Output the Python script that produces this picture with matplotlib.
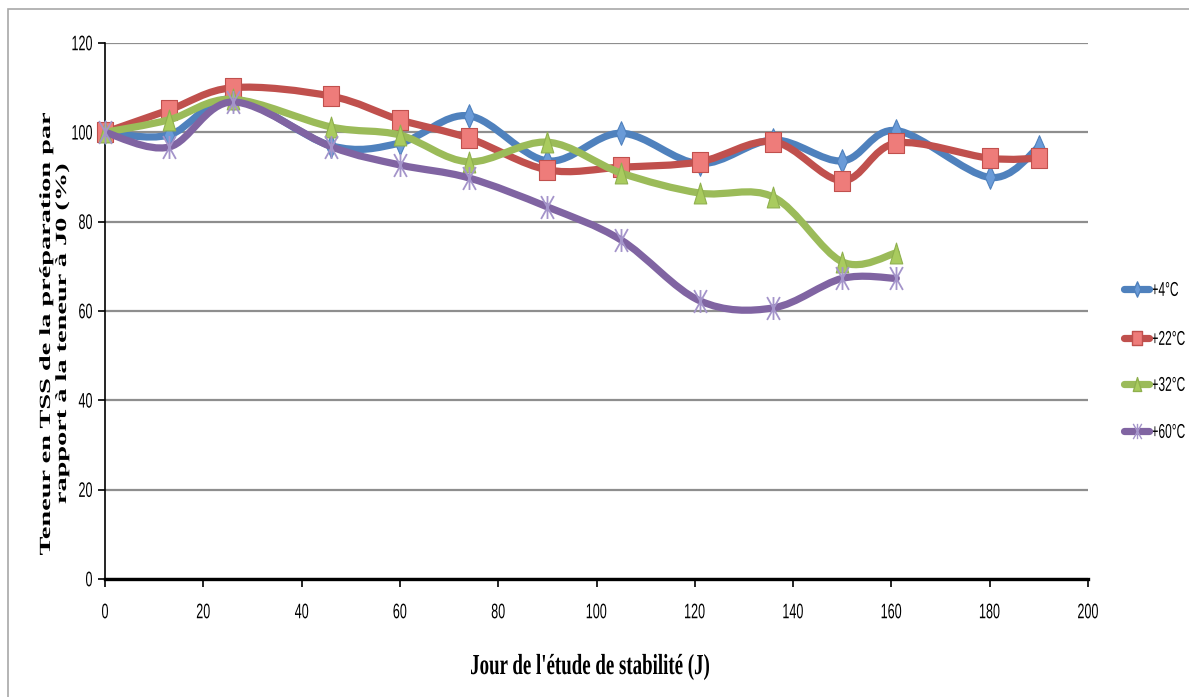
import numpy as np
import matplotlib
matplotlib.use('Agg')
import matplotlib.pyplot as plt
from matplotlib.path import Path
from matplotlib.patches import PathPatch, Rectangle
from matplotlib.textpath import TextPath
from matplotlib.font_manager import FontProperties
from matplotlib.transforms import Affine2D
from matplotlib.lines import Line2D

W, H = 1189, 697

# stability study data (% of J0 content)
days_long = [0, 13, 26, 46, 60, 74, 90, 105, 121, 136, 150, 161, 180, 190]
days_short = [0, 13, 26, 46, 60, 74, 90, 105, 121, 136, 150, 161]
tss_4 = [100, 99.4, 107.5, 97.0, 97.6, 103.7, 93.6, 99.8, 93.0, 98.3, 93.6, 100.4, 89.9, 96.7]
tss_22 = [100, 105.0, 110.0, 108.1, 102.8, 98.7, 91.6, 92.2, 93.4, 97.9, 89.2, 97.6, 94.2, 94.2]
tss_32 = [100, 102.8, 107.4, 101.2, 99.4, 93.4, 97.8, 90.9, 86.4, 85.5, 71.0, 73.0]
tss_60 = [100, 96.7, 106.8, 96.8, 92.7, 89.8, 83.3, 75.9, 62.3, 60.7, 67.3, 67.3]

labels = ['+4°C', '+22°C', '+32°C', '+60°C']
colors = ['#4F81BD', '#C0504D', '#9BBB59', '#8064A2']
x_ticks = [0, 20, 40, 60, 80, 100, 120, 140, 160, 180, 200]
y_ticks = [0, 20, 40, 60, 80, 100, 120]

# tall markers (the original chart is squeezed horizontally)
diamond = Path([(0, -0.5), (0.22, 0), (0, 0.5), (-0.22, 0), (0, -0.5)],
               [1, 2, 2, 2, 79])
square = Path([(-0.4, -0.5), (0.4, -0.5), (0.4, 0.5), (-0.4, 0.5), (-0.4, -0.5)],
              [1, 2, 2, 2, 79])
triangle = Path([(-0.3, -0.5), (0.3, -0.5), (0, 0.5), (-0.3, -0.5)], [1, 2, 2, 79])
star = Path([(-0.28, -0.5), (0.28, 0.5), (-0.28, 0.5), (0.28, -0.5), (0, -0.5), (0, 0.5)],
            [1, 2, 1, 2, 1, 2])


def smooth_path(xs, ys):
    pts = np.column_stack([xs, ys]).astype(float)
    n = len(pts)
    verts = [pts[0]]
    codes = [Path.MOVETO]
    for i in range(n - 1):
        p0 = pts[max(i - 1, 0)]
        p1 = pts[i]
        p2 = pts[i + 1]
        p3 = pts[min(i + 2, n - 1)]
        verts += [p1 + (p2 - p0) / 6, p2 - (p3 - p1) / 6, p2]
        codes += [Path.CURVE4] * 3
    return Path(verts, codes)


def draw_text(fig, s, x, y, em, sx=1.0, family='Liberation Sans', weight='normal',
              rot=0, ha='center', va='baseline', length=None):
    # x, y in reference pixels, y measured from the top
    tp = TextPath((0, 0), s, size=em, prop=FontProperties(family=family, weight=weight))
    ext = tp.get_extents()
    if length is not None:
        sx = length / ext.width
    ox = {'left': ext.x0, 'center': (ext.x0 + ext.x1) / 2, 'right': ext.x1}[ha]
    oy = {'baseline': 0, 'center': (ext.y0 + ext.y1) / 2, 'top': ext.y1}[va]
    tr = Affine2D().translate(-ox, -oy).scale(sx, 1).rotate_deg(rot).translate(x, H - y)
    fig.add_artist(PathPatch(tp, transform=tr, fc='black', ec='none', lw=0))
    return sx


fig = plt.figure(figsize=(W / 100, H / 100), dpi=100)
ax = fig.add_axes([105 / W, 1 - 579 / H, (1088 - 105) / W, (579 - 43) / H])
ax.set_xlim(0, 200)
ax.set_ylim(0, 120)
ax.set_xticks(x_ticks)
ax.set_yticks(y_ticks)
ax.tick_params(labelbottom=False, labelleft=False)
ax.tick_params(axis='y', direction='out', length=5, width=1.2, color='black')
ax.tick_params(axis='x', direction='out', length=6, width=1.2, color='black')
ax.yaxis.grid(True, color='#8E8E8E', lw=1.6)
ax.set_axisbelow(True)
for side in ['top', 'right']:
    ax.spines[side].set_visible(False)
ax.spines['bottom'].set_linewidth(2.4)
ax.spines['left'].set_linewidth(1.2)

series = [(days_long, tss_4, diamond, 17, dict(mfc='#6A9BD8', mec='#4F81BD')),
          (days_long, tss_22, square, 14.5, dict(mfc='#EE7C7A', mec='#C0504D')),
          (days_short, tss_32, triangle, 15, dict(mfc='#A9CB5E', mec='#8FB04E')),
          (days_short, tss_60, star, 16.5, dict(mfc='none', mec='#A494CA'))]

for i, (d, v, mk, ms, mstyle) in enumerate(series):
    ax.add_patch(PathPatch(smooth_path(d, v), fill=False, ec=colors[i], lw=5.2,
                           capstyle='round', joinstyle='round', zorder=3 + 2 * i))
    ax.plot(d, v, linestyle='none', marker=mk, ms=ms, mew=1.3 if i == 3 else 0.8,
            clip_on=False, zorder=4 + 2 * i, **mstyle)

# tick labels
for v in x_ticks:
    px = ax.transData.transform((v, 0))[0]
    draw_text(fig, str(v), px, 611, 21, sx=0.6, va='center')
for v in y_ticks:
    py = H - ax.transData.transform((0, v))[1]
    draw_text(fig, str(v), 92, py, 21, sx=0.6, ha='right', va='center')

# axis titles
draw_text(fig, "Jour de l'étude de stabilité (J)", 590, 674, 29,
          family='Liberation Serif', weight='bold', length=238)
sy = draw_text(fig, 'Teneur en TSS de la préparation par', 50, 334, 15.5,
               family='Liberation Serif', weight='bold', rot=90, length=442)
draw_text(fig, 'rapport à la teneur à J0 (%)', 66, 334, 15.5, sx=sy,
          family='Liberation Serif', weight='bold', rot=90)

# legend
leg_y = [289, 338, 384, 431]
leg_ms = [11, 9.5, 10, 11]
for i, y in enumerate(leg_y):
    fig.add_artist(Line2D([1124 / W, 1149 / W], [1 - y / H] * 2, color=colors[i], lw=5.2,
                          solid_capstyle='round'))
    fig.add_artist(Line2D([1136.5 / W], [1 - y / H], linestyle='none', marker=series[i][2],
                          ms=leg_ms[i], mew=1.0, **series[i][4]))
    draw_text(fig, labels[i], 1152, y, 20, sx=0.6, ha='left', va='center')

# outer chart border
fig.add_artist(Rectangle((8 / W, -0.1), 1.2, 1.1 - 9 / H, transform=fig.transFigure,
                         fill=False, ec='#A8A8A8', lw=1.2))

fig.savefig('out.png', dpi=100)
